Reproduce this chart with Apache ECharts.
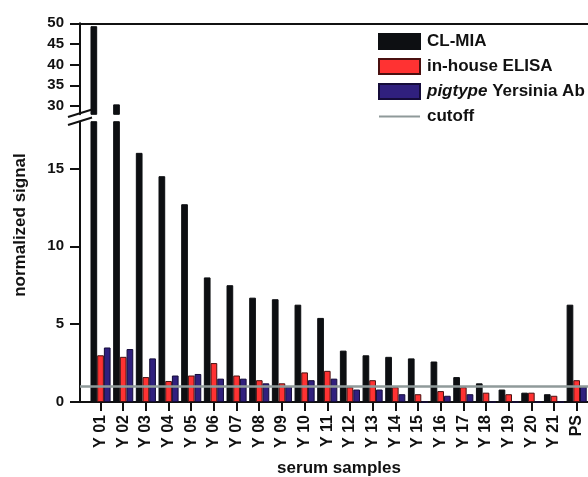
<!DOCTYPE html>
<html>
<head>
<meta charset="utf-8">
<script src="https://cdn.jsdelivr.net/npm/echarts@6/dist/echarts.min.js"></script>
<style>
html,body{margin:0;padding:0;background:#fff;}
#main{width:588px;height:477px;}
</style>
</head>
<body>
<div id="main"></div>
<script>
var categories=['Y 01','Y 02','Y 03','Y 04','Y 05','Y 06','Y 07','Y 08','Y 09','Y 10','Y 11',
	'Y 12','Y 13','Y 14','Y 15','Y 16','Y 17','Y 18','Y 19','Y 20','Y 21','PS'];
var clMia=[49.3,30.4,16.0,14.5,12.7,8.0,7.5,6.7,6.6,6.25,5.4,3.3,3.0,2.9,2.8,2.6,1.6,1.2,0.8,0.6,0.5,6.25];
var elisa=[3.0,2.9,1.6,1.35,1.7,2.5,1.7,1.4,1.2,1.9,2.0,0.95,1.4,0.95,0.5,0.7,0.95,0.6,0.5,0.6,0.4,1.4];
var pigtype=[3.5,3.4,2.8,1.7,1.8,1.5,1.5,1.2,1.0,1.4,1.5,0.8,0.8,0.5,0,0.4,0.5,0,0,0,0,1.0];
var cutoff=1.0;
var lowerTicks=[0,5,10,15];
var upperTicks=[30,35,40,45,50];
var names=['CL-MIA','in-house ELISA','pigtype Yersinia Ab','cutoff'];
var colors=['#0d0f12','#ff3232','#30207e','#8f9a9a'];
var borders=['#0d0f12','#4a1010','#150c3a'];

var FONT='"Liberation Sans", Arial, sans-serif';
var BREAK=28;

function above(arr){
	var out=[];
	for(var i=0;i<arr.length;i++)
		out.push(arr[i]>BREAK?arr[i]:'-');
	return out;
}

var myChart=echarts.init(document.getElementById('main'));

var grids=[
	{left:80,right:-5.5,top:121.7,bottom:75},   // lower frame
	{left:89.2,right:-5.5,top:121.7,bottom:75}, // lower bars
	{left:80,right:-5.5,top:23.3,bottom:362.7}, // upper frame
	{left:89.2,right:-5.5,top:23.3,bottom:362.7} // upper bars
];

var yLabel={fontFamily:FONT,fontWeight:'bold',fontSize:15,color:'#111',margin:16};
var axisBlack={lineStyle:{color:'#111',width:2}};

var option={
	animation:false,
	grid:grids,
	legend:{
		orient:'vertical',
		left:378,
		top:33,
		itemWidth:41,
		itemHeight:15,
		itemGap:8,
		padding:0,
		selectedMode:false,
		textStyle:{
			fontFamily:FONT,fontWeight:'bold',fontSize:17,color:'#111',padding:[0,0,0,2],
			rich:{i:{fontFamily:FONT,fontWeight:'bold',fontStyle:'italic',fontSize:17,color:'#111'}}
		},
		formatter:function(n){
			if(n===names[2]){
				var k=n.indexOf(' ');
				return '{i|'+n.slice(0,k)+'}'+n.slice(k);
			}
			return n;
		},
		data:[
			{name:names[0],icon:'rect'},
			{name:names[1],icon:'rect'},
			{name:names[2],icon:'rect'},
			{name:names[3],itemStyle:{opacity:0}}
		]
	},
	xAxis:[
		{gridIndex:0,type:'category',data:['',''],boundaryGap:false,axisLine:axisBlack,axisTick:{show:false},axisLabel:{show:false}},
		{gridIndex:1,type:'category',data:categories,axisLine:{show:false},
			axisTick:{show:true,alignWithLabel:true,length:9,lineStyle:{color:'#111',width:2}},
			axisLabel:{interval:0,rotate:90,fontFamily:FONT,fontWeight:'bold',fontSize:16,color:'#111',margin:13}},
		{gridIndex:2,type:'category',data:['',''],boundaryGap:false,position:'top',axisLine:axisBlack,axisTick:{show:false},axisLabel:{show:false}},
		{gridIndex:3,type:'category',data:categories,show:false}
	],
	yAxis:[
		{gridIndex:0,type:'value',min:0,max:18,splitLine:{show:false},axisLine:{show:true,lineStyle:{color:'#111',width:2}},
			axisTick:{show:true,length:10,customValues:lowerTicks,lineStyle:{color:'#111',width:2}},
			axisLabel:Object.assign({customValues:lowerTicks},yLabel)},
		{gridIndex:1,type:'value',min:0,max:18,show:false,splitLine:{show:false}},
		{gridIndex:2,type:'value',min:BREAK,max:50,splitLine:{show:false},axisLine:{show:true,lineStyle:{color:'#111',width:2}},
			axisTick:{show:true,length:10,customValues:upperTicks,lineStyle:{color:'#111',width:2}},
			axisLabel:Object.assign({customValues:upperTicks},yLabel)},
		{gridIndex:3,type:'value',min:BREAK,max:50,show:false,splitLine:{show:false}}
	],
	series:[],
	graphic:[
		{type:'line',shape:{x1:68,y1:117,x2:92,y2:109.5},style:{stroke:'#111',lineWidth:2},z:100},
		{type:'line',shape:{x1:68,y1:125,x2:92,y2:117.5},style:{stroke:'#111',lineWidth:2},z:100},
		{type:'text',x:20,y:225,rotation:Math.PI/2,
			style:{text:'normalized signal',font:'bold 17px '+FONT,fill:'#111',textAlign:'center',textVerticalAlign:'middle'}},
		{type:'text',x:339,y:468,
			style:{text:'serum samples',font:'bold 17px '+FONT,fill:'#111',textAlign:'center',textVerticalAlign:'middle'}}
	]
};

var values=[clMia,elisa,pigtype];
for(var i=0;i<3;i++){
	var st={color:colors[i],borderColor:borders[i],borderWidth:1};
	option.series.push({
		name:names[i],type:'bar',xAxisIndex:1,yAxisIndex:1,
		barWidth:6.7,barGap:'0%',itemStyle:st,data:values[i]
	});
	option.series.push({
		name:names[i],type:'bar',xAxisIndex:3,yAxisIndex:3,
		barWidth:6.7,barGap:'0%',itemStyle:st,data:above(values[i])
	});
}
option.series.push({
	name:names[3],type:'line',xAxisIndex:0,yAxisIndex:0,symbol:'none',z:10,
	lineStyle:{color:colors[3],width:2.5},itemStyle:{color:colors[3]},
	data:[cutoff,cutoff]
});

myChart.setOption(option);
</script>
</body>
</html>
